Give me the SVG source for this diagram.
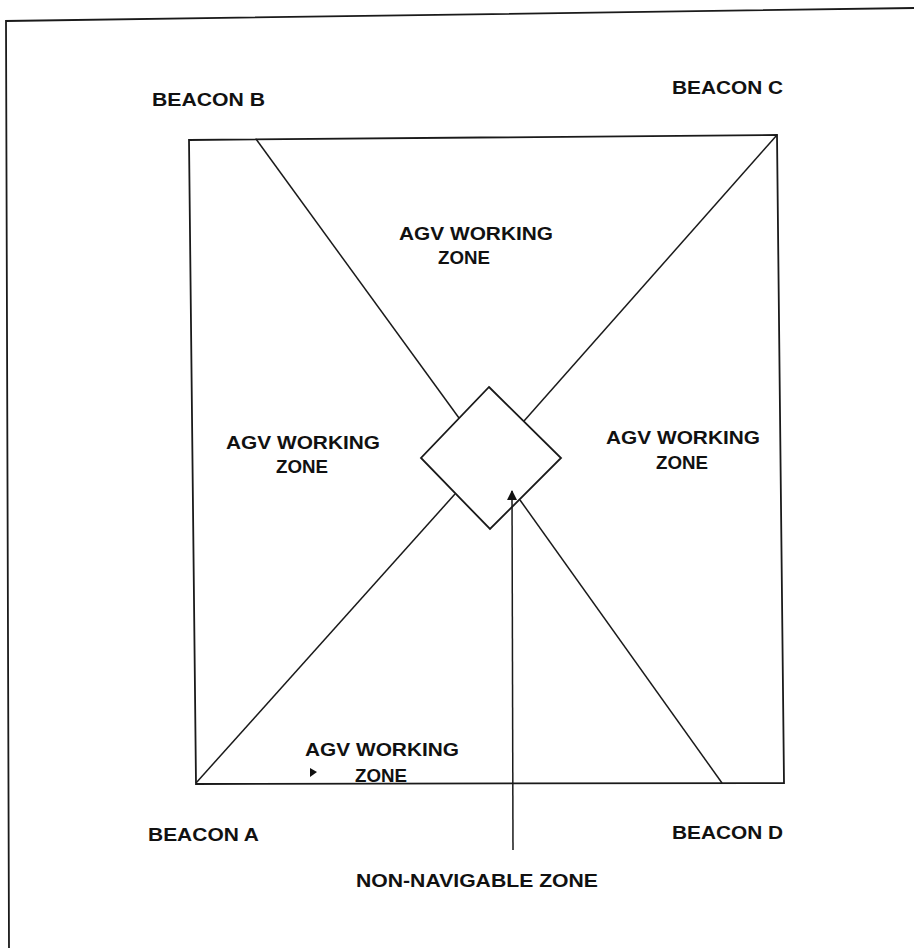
<svg xmlns="http://www.w3.org/2000/svg" width="914" height="948" viewBox="0 0 914 948">
<style>
.ln{fill:none;stroke:#1a1a1a;stroke-width:1.8;stroke-linejoin:miter}
.thin{fill:none;stroke:#1a1a1a;stroke-width:1.5}
.t{font-family:"Liberation Sans",Arial,sans-serif;font-weight:bold;font-size:19px;fill:#111}
</style>
<defs>
<marker id="ah" viewBox="0 0 10 10" refX="9" refY="5" markerWidth="10" markerHeight="10" markerUnits="userSpaceOnUse" orient="auto">
<path d="M0,0 L10,5 L0,10 z" fill="#111"/>
</marker>
</defs>
<rect width="914" height="948" fill="#fff"/>
<g id="frame">
<polyline class="ln" points="914,8 6,21 9,948"/>
</g>
<g id="area">
<polygon class="ln" points="189,140 777,135 784,783 196,784"/>
</g>
<g id="non-navigable-zone">
<polygon class="ln" points="489,387 561,458 490,529 421,458"/>
</g>
<g id="connectors">
<line class="thin" x1="256" y1="139" x2="459" y2="418"/>
<line class="thin" x1="777" y1="135" x2="524" y2="421"/>
<line class="thin" x1="196" y1="783" x2="455" y2="494"/>
<line class="thin" x1="722" y1="783" x2="520" y2="500"/>
<line class="thin" x1="513" y1="850" x2="512" y2="491" marker-end="url(#ah)"/>
<polygon points="310,768 317,772 310,777" fill="#111"/>
</g>
<g id="beacon-b"><text class="t" x="152" y="106" textLength="113" lengthAdjust="spacingAndGlyphs">BEACON  B</text></g>
<g id="beacon-c"><text class="t" x="672" y="94" textLength="111" lengthAdjust="spacingAndGlyphs">BEACON  C</text></g>
<g id="beacon-a"><text class="t" x="148" y="841" textLength="111" lengthAdjust="spacingAndGlyphs">BEACON  A</text></g>
<g id="beacon-d"><text class="t" x="672" y="839" textLength="111" lengthAdjust="spacingAndGlyphs">BEACON  D</text></g>
<g id="zone-top">
<text class="t" x="399" y="240" textLength="154" lengthAdjust="spacingAndGlyphs">AGV WORKING</text>
<text class="t" x="438" y="264" textLength="52" lengthAdjust="spacingAndGlyphs">ZONE</text>
</g>
<g id="zone-left">
<text class="t" x="226" y="449" textLength="154" lengthAdjust="spacingAndGlyphs">AGV WORKING</text>
<text class="t" x="276" y="473" textLength="52" lengthAdjust="spacingAndGlyphs">ZONE</text>
</g>
<g id="zone-right">
<text class="t" x="606" y="444" textLength="154" lengthAdjust="spacingAndGlyphs">AGV WORKING</text>
<text class="t" x="656" y="469" textLength="52" lengthAdjust="spacingAndGlyphs">ZONE</text>
</g>
<g id="zone-bottom">
<text class="t" x="305" y="756" textLength="154" lengthAdjust="spacingAndGlyphs">AGV WORKING</text>
<text class="t" x="355" y="782" textLength="52" lengthAdjust="spacingAndGlyphs">ZONE</text>
</g>
<g id="label-nnz">
<text class="t" x="356" y="887" textLength="242" lengthAdjust="spacingAndGlyphs">NON-NAVIGABLE ZONE</text>
</g>
</svg>
